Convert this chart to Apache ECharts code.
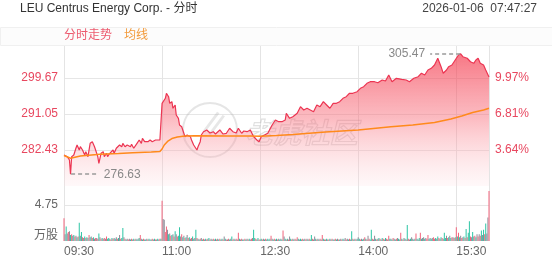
<!DOCTYPE html>
<html><head><meta charset="utf-8">
<script src="https://cdn.jsdelivr.net/npm/echarts@6/dist/echarts.min.js"></script>
<style>html,body{margin:0;padding:0;background:#fff}#c{width:552px;height:265px}</style>
</head><body><div id="c"></div>
<script>
const titleText = 'LEU Centrus Energy Corp. - 分时';
const dateText = '2026-01-06  07:47:27';
const prevClose = 272.50;
const timeLabels = ['09:30', '11:00', '12:30', '14:00', '15:30'];
const priceTicks = [273.81, 282.43, 291.05, 299.67, 308.29];
const volTicks = [0, 4.75, 7.26];

// [minute since 09:30, price]
const pricePoints = [[0,281.23],[3,280.83],[5,280.04],[6,276.63],[7,280.83],[9,281.23],[11,282.91],[12,283.63],[14,282.43],[15,283.22],[17,282.43],[19,281.23],[20,282.02],[22,280.83],[24,284.03],[26,284.42],[28,283.22],[29,282.43],[31,280.83],[32,279.25],[34,281.64],[36,282.02],[37,280.83],[39,281.64],[40,280.83],[42,281.64],[43,281.23],[45,282.43],[46,281.64],[48,282.84],[51,283.63],[53,283.22],[54,284.03],[56,283.22],[58,283.63],[61,283.22],[62,283.80],[64,282.84],[65,283.22],[67,284.03],[69,284.82],[71,284.03],[72,285.23],[74,284.42],[75,284.82],[77,284.42],[79,284.82],[81,284.42],[84,284.82],[86,284.82],[87,285.23],[88,284.82],[90,293.61],[91,293.21],[93,294.81],[94,296.01],[96,295.19],[97,293.61],[99,294.00],[100,292.42],[102,293.21],[103,290.81],[105,290.02],[106,288.42],[108,288.01],[109,287.63],[111,285.62],[113,286.02],[114,286.43],[116,285.62],[117,284.82],[119,283.63],[120,284.03],[122,282.43],[123,283.22],[125,284.42],[126,286.02],[128,286.81],[129,286.43],[131,287.22],[134,286.50],[137,286.81],[139,286.26],[143,287.22],[146,286.26],[149,286.43],[152,287.63],[155,286.81],[158,286.50],[160,287.63],[163,286.43],[165,286.98],[168,286.81],[171,287.22],[174,285.62],[177,284.82],[179,284.42],[181,285.62],[184,286.02],[187,286.43],[191,288.42],[194,289.61],[197,289.21],[200,289.21],[203,289.61],[204,291.22],[207,290.02],[210,290.40],[214,291.22],[217,292.80],[220,292.01],[223,292.42],[226,292.01],[229,291.60],[232,293.21],[235,292.80],[238,294.00],[241,293.21],[244,292.42],[247,293.61],[250,293.61],[253,294.00],[256,294.81],[259,295.19],[262,296.01],[265,296.01],[269,296.39],[272,297.20],[275,297.59],[278,298.40],[281,298.78],[285,298.78],[288,298.54],[292,299.19],[295,298.95],[298,300.39],[301,298.78],[305,299.60],[310,299.36],[314,299.19],[317,298.78],[321,299.60],[325,299.98],[328,300.80],[331,300.39],[334,301.59],[337,301.99],[340,302.78],[343,304.39],[346,302.38],[348,300.80],[351,301.59],[353,302.38],[356,302.78],[359,303.98],[362,305.18],[364,305.47],[366,304.77],[370,304.39],[373,303.57],[376,303.19],[378,303.98],[380,304.39],[382,303.19],[385,302.78],[387,301.59],[390,299.91]];

// [minute, average price]
const avgPoints = [[0,281.11],[6,280.44],[15,281.00],[33,281.40],[50,281.59],[63,281.78],[80,281.95],[88,282.07],[90,282.67],[92,283.63],[95,284.47],[99,285.18],[104,285.54],[111,285.78],[120,285.83],[150,285.78],[170,285.78],[180,285.71],[195,285.90],[210,286.14],[240,286.74],[270,287.22],[300,287.99],[320,288.42],[340,289.02],[355,289.85],[365,290.57],[375,291.41],[385,292.01],[390,292.42]];

// volume per minute (万股), minute 0..390
const volumes = [].concat(
[3.0,0.9,1.9,1.0,1.2,1.3,0.8,0.9,0.7,0.8,0.6,0.7,0.5,0.6,2.4,0.7,1.2,0.5,0.4,0.6,0.4,0.5,0.4,0.8,0.5,0.6,0.4,0.5,0.3,0.4],
[0.4,0.3,1.0,0.5,0.3,0.4,0.3,0.4,0.3,0.6,0.3,0.4,0.3,0.2,0.4,0.3,0.4,0.3,0.5,0.3,0.4,0.8,0.3,0.4,1.7,0.5,0.3,0.2,0.3,0.2],
[0.3,0.2,0.3,0.2,0.3,0.2,0.3,0.2,0.3,0.4,0.8,0.3,0.2,0.3,0.2,0.2,0.3,0.2,0.3,0.2,0.2,0.3,0.2,0.3,0.2,0.2,0.3,0.2,0.3,0.3],
[5.3,2.9,2.8,1.2,1.9,1.5,0.9,1.0,0.7,0.8,0.9,0.6,1.3,0.9,0.6,0.7,1.8,0.6,0.9,0.5,0.7,0.4,0.5,0.8,0.4,0.5,0.3,0.4,0.6,0.3],
[0.4,1.5,0.4,0.3,0.2,0.3,0.4,0.2,0.3,0.2,0.3,0.2,0.3,0.4,0.2,0.3,0.2,0.3,0.2,0.3,0.2,0.3,0.2,0.3,0.2,0.3,0.2,0.6,0.3,0.2],
[0.2,0.3,0.2,0.3,0.6,0.2,0.3,0.2,0.3,0.2,1.1,0.3,0.2,0.3,0.2,0.2,0.3,0.2,0.3,0.2,0.3,0.2,0.3,0.4,1.5,0.4,0.3,0.2,0.4,0.2],
[0.2,0.3,0.2,0.3,0.2,0.3,0.2,0.3,0.2,0.3,0.7,0.3,0.2,0.3,0.2,0.3,0.2,0.3,0.2,0.3,0.2,1.4,0.6,0.3,0.2,0.3,0.2,0.6,0.3,0.2],
[0.3,0.2,0.3,0.2,0.5,0.3,0.2,0.3,0.2,0.3,0.2,0.3,0.2,0.3,0.2,0.3,0.2,0.8,0.3,0.2,0.6,0.3,0.2,0.3,0.2,0.3,0.2,0.8,0.3,0.2],
[0.2,0.3,0.2,0.2,0.3,0.2,0.3,0.2,0.2,0.3,0.2,0.3,0.2,0.2,0.3,0.2,0.3,0.2,0.4,0.2,0.3,0.2,0.3,0.2,1.3,0.3,0.2,0.3,0.2,0.3],
[0.5,0.3,0.2,0.3,0.2,0.3,0.5,0.3,0.2,0.7,0.3,0.2,1.5,0.3,0.2,0.7,0.3,0.2,0.3,0.4,0.3,0.2,0.4,0.3,0.2,0.4,0.3,0.2,0.7,0.3],
[0.3,0.2,0.4,0.3,0.2,0.3,0.4,0.3,0.2,1.1,0.3,0.2,0.4,0.3,0.2,2.1,0.3,0.2,0.3,0.5,0.3,0.2,0.3,1.0,0.3,0.2,0.4,1.1,0.3,0.4],
[0.5,0.3,0.4,0.3,0.8,0.3,0.4,0.3,0.4,0.5,0.3,0.4,0.3,0.6,0.4,0.3,0.5,0.4,0.3,1.1,0.4,0.7,0.4,0.5,0.7,0.4,0.5,0.5,0.4,0.5],
[1.8,0.6,1.1,0.5,0.7,0.4,0.5,0.6,0.4,1.6,0.5,1.1,2.6,0.6,0.5,1.2,0.6,0.7,0.5,0.9,0.6,0.9,0.7,1.4,0.8,1.5,0.9,2.3,1.0,3.1,6.6]
);
// per-minute direction: u = up (red), d = down (green), f = flat (gray)
const volDir = [
'ufdfufdufdufdudfdufdudfudfudfu',
'fudfudfufuddfudufdfudfuddfudfu',
'fdufdufdfdufdufdfudfdufdufdfud',
'uffuufdfudfudfuddfudfudfudfudf',
'fdufdufdufdufdufdufdufdufdufdu',
'fudfdufdufudfudfudfudfufddufdu',
'fdufdufdfdufdufdufdfdufdudufdu',
'fdufudfdfudfufdudduffdufdufudf',
'udfudfudfudfudfudffufdufdudfud',
'fdufdfudufudduffdufdufdufdufud',
'fdufdufdfudufdudufdffdfudfdudf',
'fdfuudfdfuudfdufdufddfudfdufud',
'ududfufdududdufdfudfufudfdudffu'
].join('');

const FONT = "'Liberation Sans', Arial, 'Noto Sans CJK SC', sans-serif";
const RED = '#ec3552';
const LABEL_RED = '#e8475f';
const dirColor = {u: '#f2647c', d: '#2cc5a4', f: '#8e8c98'};

let minP = Infinity, maxP = -Infinity, minM = 0, maxM = 0;
pricePoints.forEach(p => {
  if (p[1] < minP) { minP = p[1]; minM = p[0]; }
  if (p[1] > maxP) { maxP = p[1]; maxM = p[0]; }
});

const chart = echarts.init(document.getElementById('c'), null, {renderer: 'canvas'});
const pMin = priceTicks[0], pMax = priceTicks[priceTicks.length - 1], pInt = priceTicks[1] - priceTicks[0];

chart.setOption({
  animation: false,
  textStyle: {fontFamily: FONT},
  grid: [
    {left: 64, right: 63, top: 42, height: 144},
    {left: 64, right: 63, top: 186, height: 55}
  ],
  xAxis: [
    {type: 'value', gridIndex: 0, min: 0, max: 390, interval: 90,
     axisLine: {show: false}, axisTick: {show: false}, axisLabel: {show: false},
     splitLine: {show: true, lineStyle: {color: '#e4e4e4'}}},
    {type: 'value', gridIndex: 1, min: 0, max: 390, interval: 90,
     axisLine: {show: false}, axisTick: {show: false},
     axisLabel: {show: true, align: 'left', color: '#666', fontSize: 12, margin: 5,
                 showMaxLabel: false, formatter: v => timeLabels[Math.round(v / 90)] || ''},
     splitLine: {show: true, lineStyle: {color: '#e4e4e4'}}}
  ],
  yAxis: [
    {type: 'value', gridIndex: 0, min: pMin, max: pMax, interval: pInt,
     axisLine: {show: false}, axisTick: {show: false},
     axisLabel: {color: LABEL_RED, fontSize: 12, margin: 6, showMinLabel: false, showMaxLabel: false,
                 formatter: v => v.toFixed(2)},
     splitLine: {show: true, showMinLine: false, showMaxLine: false, lineStyle: {color: '#e6e6e6'}}},
    {type: 'value', gridIndex: 0, position: 'right', min: pMin, max: pMax, interval: pInt,
     axisLine: {show: false}, axisTick: {show: false},
     axisLabel: {color: LABEL_RED, fontSize: 12, margin: 6, showMinLabel: false, showMaxLabel: false,
                 formatter: v => ((v / prevClose - 1) * 100).toFixed(2) + '%'},
     splitLine: {show: false}},
    {type: 'value', gridIndex: 1, min: volTicks[0], max: volTicks[2], interval: volTicks[1],
     axisLine: {show: false}, axisTick: {show: false},
     axisLabel: {color: '#666', fontSize: 12, margin: 6, showMaxLabel: false,
                 formatter: v => v === 0 ? '{u|万股}' : v.toFixed(2),
                 rich: {u: {color: '#666', fontSize: 12, padding: [0, 0, 10, 0], fontFamily: FONT}}},
     splitLine: {show: true, showMinLine: false, showMaxLine: false, lineStyle: {color: '#e6e6e6'}}}
  ],
  series: [
    {type: 'line', name: '分时走势', xAxisIndex: 0, yAxisIndex: 0, data: pricePoints,
     symbol: 'none', z: 3,
     lineStyle: {color: RED, width: 1.2},
     areaStyle: {origin: 'start', color: new echarts.graphic.LinearGradient(0, 0, 0, 1, [
       {offset: 0, color: 'rgba(243,50,70,0.95)'},
       {offset: 0.5, color: 'rgba(248,115,128,0.68)'},
       {offset: 1, color: 'rgba(255,222,226,0.3)'}
     ])},
     markLine: {
       silent: true, symbol: ['none', 'none'], animation: false,
       lineStyle: {type: [4, 3], color: '#9a9a9a', width: 1.5},
       label: {show: true, position: 'end', color: '#888', fontSize: 12, distance: 5,
               formatter: p => p.name},
       emphasis: {disabled: true},
       data: [
         [{name: minP.toFixed(2), coord: [minM + 0.5, minP]}, {coord: [minM + 26, minP]}],
         [{name: maxP.toFixed(2), coord: [maxM - 0.5, maxP]}, {coord: [maxM - 28, maxP]}]
       ]
     }},
    {type: 'line', name: '均线', xAxisIndex: 0, yAxisIndex: 0, data: avgPoints,
     symbol: 'none', z: 4, lineStyle: {color: '#ff8a1c', width: 1.5}},
    {type: 'bar', xAxisIndex: 1, yAxisIndex: 2, barWidth: 1,
     data: volumes.map((v, i) => ({value: [i, v], itemStyle: {color: dirColor[volDir[i]] || dirColor.f}}))}
  ],
  graphic: [
    {type: 'text', left: 20, top: 3, z: 100,
     style: {text: titleText, fill: '#333', font: '12px ' + FONT}},
    {type: 'text', right: 15, top: 3, z: 100,
     style: {text: dateText, fill: '#444', font: '12px ' + FONT}},
    {type: 'rect', left: 0, top: 27, z: 90, shape: {width: 552, height: 18},
     style: {fill: '#fcfcfc', stroke: '#f0f0f0', lineWidth: 1}},
    {type: 'text', left: 64, top: 30, z: 100,
     style: {text: '分时走势', fill: '#ec5a6e', font: '12px ' + FONT}},
    {type: 'text', left: 124, top: 30, z: 100,
     style: {text: '均线', fill: '#f29a3a', font: '12px ' + FONT}},
    {type: 'circle', z: 2, shape: {cx: 210, cy: 130, r: 27},
     style: {fill: 'none', stroke: 'rgba(160,160,160,0.28)', lineWidth: 2}},
    {type: 'text', left: 196, top: 112, z: 2,
     style: {text: '∥', fill: 'rgba(160,160,160,0.25)', font: 'italic bold 30px ' + FONT}},
    {type: 'text', left: 245, top: 118, z: 2,
     style: {text: '老虎社区', fill: 'rgba(255,255,255,0.08)', stroke: 'rgba(150,150,150,0.3)', lineWidth: 1.2,
             font: 'italic bold 28px "Noto Sans CJK SC"'}}
  ]
});
</script></body></html>
